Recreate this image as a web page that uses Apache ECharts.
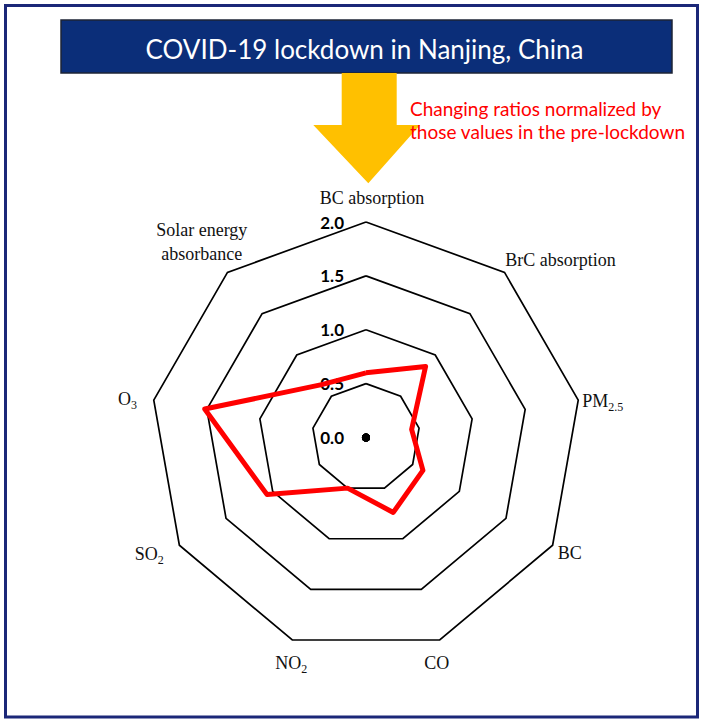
<!DOCTYPE html>
<html>
<head>
<meta charset="utf-8">
<script src="https://cdn.jsdelivr.net/npm/echarts@6/dist/echarts.min.js"></script>
<style>
html,body{margin:0;padding:0;background:#fff;}
#chart{width:702px;height:723px;}
</style>
</head>
<body>
<div id="chart"></div>
<script>
// ---- data (clockwise from top, as in the reference) ----
var categories = ['BC absorption', 'BrC absorption', 'PM2.5', 'BC', 'CO', 'NO2', 'SO2', 'O3', 'Solar energy absorbance'];
var lockdownRatios = [0.60, 0.86, 0.43, 0.61, 0.74, 0.50, 1.06, 1.52, 0.64];
var tickValues = [0.0, 0.5, 1.0, 1.5, 2.0];
var titleText = 'COVID-19 lockdown in Nanjing, China';
var noteLines = ['Changing ratios normalized by', 'those values in the pre-lockdown'];

// ---- layout (not data) ----
var nameLayout = {
  'BC absorption': {gap: 12, style: {padding: [0, 0, 0, 12]}},
  'BrC absorption': {gap: 1, style: {align: 'left', verticalAlign: 'bottom'}},
  'PM2.5': {gap: 4, style: {padding: [4, 0, 0, 0]}},
  'BC': {gap: 6, style: {padding: [10, 0, 0, 0]}},
  'CO': {gap: 12, style: {align: 'center', verticalAlign: 'top', padding: [0, 14, 0, 0]}},
  'NO2': {gap: 12, style: {align: 'center', verticalAlign: 'top', padding: [0, 0, 0, 6]}},
  'SO2': {gap: 18, style: {}},
  'O3': {gap: 17, style: {padding: [4, 0, 0, 0]}},
  'Solar energy absorbance': {gap: 40, style: {align: 'center', verticalAlign: 'middle'}}
};

// ECharts radar runs counter-clockwise: keep first, reverse the rest
var order = [0];
for (var k = categories.length - 1; k >= 1; k--) order.push(k);

var tMin = tickValues[0], tMax = tickValues[tickValues.length - 1];

var indicators = order.map(function (k, i) {
  var c = categories[k];
  var lay = nameLayout[c];
  var ind = {name: c, min: tMin, max: tMax, nameGap: lay.gap, nameTextStyle: lay.style};
  if (i === 0) {
    ind.axisLabel = {show: true};
  }
  return ind;
});
var seriesValues = order.map(function (k) { return lockdownRatios[k]; });
var originValues = order.map(function () { return tMin; });

function fmtName(n) {
  if (n === 'PM2.5') return '{n|PM}{sub|2.5}';
  if (n === 'NO2') return '{n|NO}{sub|2}';
  if (n === 'SO2') return '{n|SO}{sub|2}';
  if (n === 'O3') return '{n|O}{sub|3}';
  if (n === 'Solar energy absorbance') return '{n|Solar energy}\n{n|absorbance}';
  return '{n|' + n + '}';
}

var chart = echarts.init(document.getElementById('chart'), null, {renderer: 'svg'});
chart.setOption({
  animation: false,
  backgroundColor: '#ffffff',
  radar: {
    center: [366, 437.5],
    radius: 215.5,
    startAngle: 90,
    shape: 'polygon',
    splitNumber: tickValues.length - 1,
    axisNameGap: 12,
    axisName: {
      formatter: fmtName,
      color: '#111',
      fontFamily: 'Liberation Serif',
      fontSize: 18,
      rich: {
        n: {fontFamily: 'Liberation Serif', fontSize: 18, color: '#111', lineHeight: 24},
        sub: {fontFamily: 'Liberation Serif', fontSize: 12, color: '#111', lineHeight: 24, verticalAlign: 'bottom', padding: [10, 0, 0, 0]}
      }
    },
    axisLine: {show: false},
    axisTick: {show: false},
    axisLabel: {
      show: false,
      formatter: function (v) { return v.toFixed(1); },
      fontFamily: 'Lato',
      fontWeight: 'bold',
      fontSize: 17,
      color: '#000',
      margin: 22
    },
    splitLine: {lineStyle: {color: '#000', width: 1.7}},
    splitArea: {show: false},
    indicator: indicators
  },
  series: [{
    type: 'radar',
    silent: true,
    data: [
      {
        value: seriesValues,
        symbol: 'none',
        lineStyle: {color: '#ff0000', width: 5}
      },
      {
        value: originValues,
        symbol: 'circle',
        symbolSize: 8,
        itemStyle: {color: '#000'},
        lineStyle: {width: 0, opacity: 0}
      }
    ]
  }],
  graphic: [
    {type: 'rect', z: 1, silent: true, shape: {x: 5.5, y: 5.5, width: 692, height: 711.5},
      style: {fill: 'none', stroke: '#1b2778', lineWidth: 3}},
    {type: 'rect', z: 1, silent: true, shape: {x: 61, y: 20, width: 611, height: 53},
      style: {fill: '#0b2e79', stroke: '#1e2536', lineWidth: 1.5}},
    {type: 'text', z: 2, silent: true, x: 364.5, y: 49,
      style: {text: titleText, fill: '#fff', font: '26px Lato', align: 'center', verticalAlign: 'middle'}},
    {type: 'polygon', z: 1, silent: true,
      shape: {points: [[341.7, 73], [396.7, 73], [396.7, 125], [420, 125], [368.3, 183.3], [313.3, 125], [341.7, 125]]},
      style: {fill: '#ffc000'}},
    {type: 'text', z: 3, silent: true, x: 410, y: 108,
      style: {text: noteLines[0], fill: '#ff0000', font: '19px Lato', align: 'left', verticalAlign: 'middle'}},
    {type: 'text', z: 3, silent: true, x: 410, y: 131.7,
      style: {text: noteLines[1], fill: '#ff0000', font: '19px Lato', align: 'left', verticalAlign: 'middle'}}
  ]
});
</script>
</body>
</html>
